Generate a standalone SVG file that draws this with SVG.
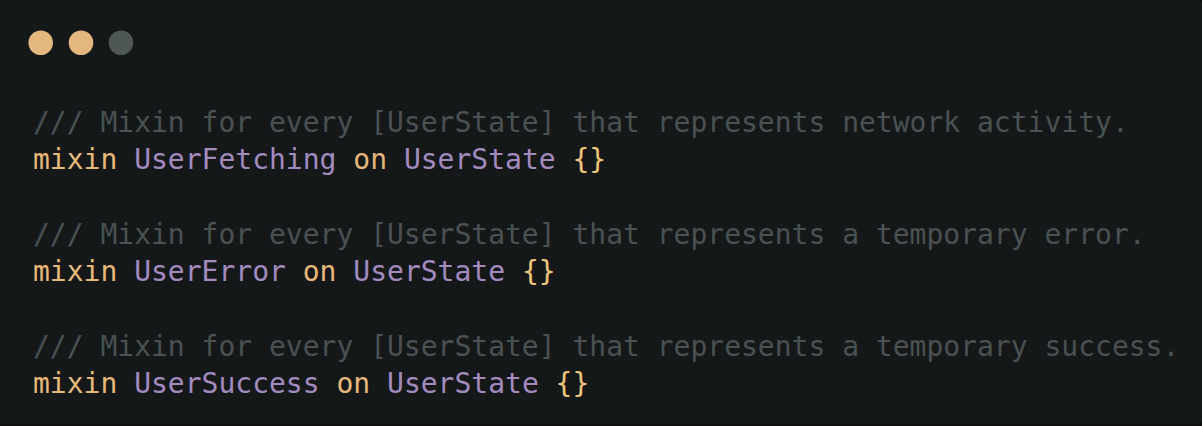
<svg xmlns="http://www.w3.org/2000/svg" width="1202" height="426" viewBox="0 0 1202 426">
<style>
text{font-family:"DejaVu Sans Mono","Liberation Mono",monospace;font-size:28px;white-space:pre}
.c{fill:#4a5152}
.k{fill:#e6b97b}
.t{fill:#a38bc0}
.b{fill:#f0c67c}
</style>
<rect x="0" y="0" width="1202" height="426" fill="#0e0f10"/>
<rect x="0" y="0" width="1202" height="424" rx="4" fill="#151819"/>
<g id="dots">
<circle cx="40.7" cy="42.7" r="12.3" fill="#e3b77d"/>
<circle cx="81" cy="42.7" r="12.3" fill="#e3b77d"/>
<circle cx="121" cy="42.7" r="12.3" fill="#4e5755"/>
</g>
<g id="code">
<text x="33" y="132" class="c">/// Mixin for every [UserState] that represents network activity.</text>
<text x="33" y="169.3"><tspan class="k">mixin</tspan> <tspan class="t">UserFetching</tspan> <tspan class="k">on</tspan> <tspan class="t">UserState</tspan> <tspan class="b">{}</tspan></text>
<text x="33" y="244" class="c">/// Mixin for every [UserState] that represents a temporary error.</text>
<text x="33" y="281.3"><tspan class="k">mixin</tspan> <tspan class="t">UserError</tspan> <tspan class="k">on</tspan> <tspan class="t">UserState</tspan> <tspan class="b">{}</tspan></text>
<text x="33" y="356" class="c">/// Mixin for every [UserState] that represents a temporary success.</text>
<text x="33" y="393.3"><tspan class="k">mixin</tspan> <tspan class="t">UserSuccess</tspan> <tspan class="k">on</tspan> <tspan class="t">UserState</tspan> <tspan class="b">{}</tspan></text>
</g>
</svg>
